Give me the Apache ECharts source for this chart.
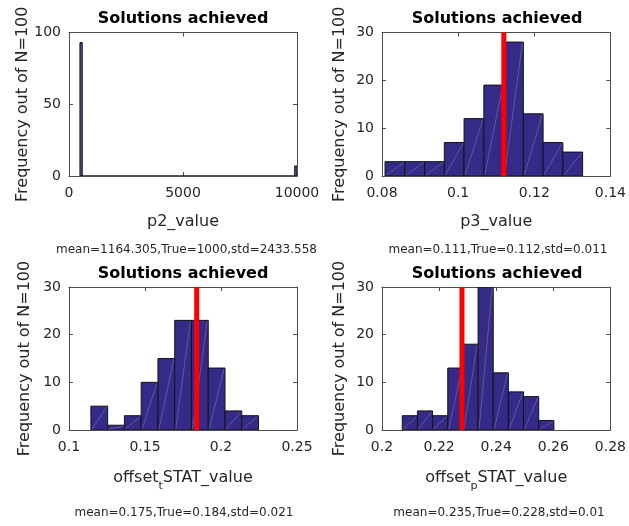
<!DOCTYPE html>
<html>
<head>
<meta charset="utf-8">
<script src="https://cdn.jsdelivr.net/npm/echarts@6/dist/echarts.min.js"></script>
<style>
  html, body { margin: 0; padding: 0; background: #ffffff; }
  #chart { width: 629px; height: 526px; }
</style>
</head>
<body>
<div id="chart"></div>
<script>
// ---- data -------------------------------------------------------------
// p2: 95 equal-width bins starting at the smallest solution
const p2BinStart = 480;
const p2BinWidth = 100.2;
const p2Counts = [
  93, 0, 0, 0, 0, 0, 0, 0, 0, 0,
  0, 0, 0, 0, 0, 0, 0, 0, 0, 0,
  0, 0, 0, 0, 0, 0, 0, 0, 0, 0,
  0, 0, 0, 0, 0, 0, 0, 0, 0, 0,
  0, 0, 0, 0, 0, 0, 0, 0, 0, 0,
  0, 0, 0, 0, 0, 0, 0, 0, 0, 0,
  0, 0, 0, 0, 0, 0, 0, 0, 0, 0,
  0, 0, 0, 0, 0, 0, 0, 0, 0, 0,
  0, 0, 0, 0, 0, 0, 0, 0, 0, 0,
  0, 0, 0, 0, 7
];

const p3BinStart = 0.0808;
const p3BinWidth = 0.00519;
const p3Counts = [3, 3, 3, 7, 12, 19, 28, 13, 7, 5];
const p3True = 0.112;

const offsetTBinStart = 0.1144;
const offsetTBinWidth = 0.01103;
const offsetTCounts = [5, 1, 3, 10, 15, 23, 23, 13, 4, 3];
const offsetTTrue = 0.184;

const offsetPBinStart = 0.2071;
const offsetPBinWidth = 0.00531;
const offsetPCounts = [3, 4, 3, 13, 18, 30, 12, 8, 7, 2];
const offsetPTrue = 0.228;

const xTicks = [
  { min: 0, max: 10000, interval: 5000 },
  { min: 0.08, max: 0.14, interval: 0.02 },
  { min: 0.1, max: 0.25, interval: 0.05 },
  { min: 0.2, max: 0.28, interval: 0.02 }
];
const yTicks = [
  { min: 0, max: 100, interval: 50 },
  { min: 0, max: 30, interval: 10 },
  { min: 0, max: 30, interval: 10 },
  { min: 0, max: 30, interval: 10 }
];

const panelTitle = 'Solutions achieved';
const yLabel = 'Frequency out of N=100';
const xLabels = [
  'p2_value',
  'p3_value',
  '{m|offset}{s|t}{m|STAT_value}',
  '{m|offset}{s|p}{m|STAT_value}'
];
const summaries = [
  'mean=1164.305,True=1000,std=2433.558',
  'mean=0.111,True=0.112,std=0.011',
  'mean=0.175,True=0.184,std=0.021',
  'mean=0.235,True=0.228,std=0.01'
];

// ---- helpers ----------------------------------------------------------
function binsOf(start, width, counts) {
  return counts.map((c, i) => [start + i * width, start + (i + 1) * width, c]);
}
function plainNumber(v) {
  return String(parseFloat(Number(v).toPrecision(10)));
}

const panels = [
  { bins: binsOf(p2BinStart, p2BinWidth, p2Counts), truth: null },
  { bins: binsOf(p3BinStart, p3BinWidth, p3Counts), truth: p3True },
  { bins: binsOf(offsetTBinStart, offsetTBinWidth, offsetTCounts), truth: offsetTTrue },
  { bins: binsOf(offsetPBinStart, offsetPBinWidth, offsetPCounts), truth: offsetPTrue }
];

const FONT = 'DejaVu Sans';
const INK = '#262626';
const BOX = '#4d4d4d';
const BAR = '#352a87';

const grids = [
  { left: 69, top: 32.5, width: 228, height: 143.5 },
  { left: 382, top: 32.5, width: 230, height: 143.5 },
  { left: 69, top: 287, width: 228, height: 143 },
  { left: 382, top: 287, width: 230, height: 143 }
];
const xNameGap = [38, 38, 40, 40];
const yNameGap = [36, 34, 36, 34];

const xAxes = [], yAxes = [], series = [];

grids.forEach((g, i) => {
  const tickStyle = { show: true, inside: true, length: 4, lineStyle: { color: BOX, width: 1 } };
  const lineStyle = { show: true, onZero: false, lineStyle: { color: BOX, width: 1 } };
  xAxes.push({
    type: 'value', gridIndex: i, position: 'bottom',
    min: xTicks[i].min, max: xTicks[i].max, interval: xTicks[i].interval,
    axisLine: lineStyle, axisTick: tickStyle, splitLine: { show: false },
    axisLabel: { color: INK, fontSize: 14, fontFamily: FONT, margin: 10, formatter: plainNumber },
    name: xLabels[i], nameLocation: 'middle', nameGap: xNameGap[i],
    nameTextStyle: {
      color: INK, fontSize: 16, fontFamily: FONT,
      rich: {
        m: { color: INK, fontSize: 16, fontFamily: FONT, lineHeight: 18, verticalAlign: 'top' },
        s: { color: INK, fontSize: 11, fontFamily: FONT, lineHeight: 11, verticalAlign: 'top', padding: [11, 0, 0, 0] }
      }
    }
  });
  xAxes.push({
    type: 'value', gridIndex: i, position: 'top',
    min: xTicks[i].min, max: xTicks[i].max, interval: xTicks[i].interval,
    axisLine: lineStyle, axisTick: tickStyle, splitLine: { show: false },
    axisLabel: { show: false }
  });
  yAxes.push({
    type: 'value', gridIndex: i, position: 'left',
    min: yTicks[i].min, max: yTicks[i].max, interval: yTicks[i].interval,
    axisLine: lineStyle, axisTick: tickStyle, splitLine: { show: false },
    axisLabel: { color: INK, fontSize: 14, fontFamily: FONT, margin: 8, formatter: plainNumber },
    name: yLabel, nameLocation: 'middle', nameGap: yNameGap[i],
    nameTextStyle: { color: INK, fontSize: 16, fontFamily: FONT }
  });
  yAxes.push({
    type: 'value', gridIndex: i, position: 'right',
    min: yTicks[i].min, max: yTicks[i].max, interval: yTicks[i].interval,
    axisLine: lineStyle, axisTick: tickStyle, splitLine: { show: false },
    axisLabel: { show: false }
  });

  // histogram bars: filled rectangle with dark edge and a faint diagonal seam
  series.push({
    type: 'custom',
    xAxisIndex: 2 * i, yAxisIndex: 2 * i,
    clip: true,
    data: panels[i].bins,
    renderItem: function (params, api) {
      const p0 = api.coord([api.value(0), 0]);
      const p1 = api.coord([api.value(1), api.value(2)]);
      const x = p0[0], y = p1[1], w = p1[0] - p0[0], h = p0[1] - p1[1];
      const children = [{
        type: 'rect',
        shape: { x: x, y: y, width: w, height: h },
        style: { fill: BAR, stroke: '#141414', lineWidth: 1 }
      }];
      if (h > 2) {
        children.push({
          type: 'line',
          shape: { x1: x + 1, y1: y + h - 1, x2: x + w - 1, y2: y + 1 },
          style: { stroke: 'rgba(255,255,255,0.35)', lineWidth: 0.6 }
        });
      }
      return { type: 'group', children: children };
    }
  });

  // true value marker
  if (panels[i].truth !== null) {
    series.push({
      type: 'line',
      xAxisIndex: 2 * i, yAxisIndex: 2 * i,
      data: [[panels[i].truth, yTicks[i].min], [panels[i].truth, yTicks[i].max]],
      symbol: 'none',
      lineStyle: { color: '#ff0000', width: 5, cap: 'butt' },
      z: 5
    });
  }
});

const titleCenters = [[183, 19], [497, 19], [183, 273.5], [497, 273.5]];
const summaryCenters = [[186.5, 250], [498, 250], [184, 513], [499, 513]];

const graphics = [];
titleCenters.forEach((c) => {
  graphics.push({
    type: 'text', x: c[0], y: c[1],
    style: {
      text: panelTitle, fill: '#000000',
      font: 'bold 16px "DejaVu Sans"',
      textAlign: 'center', textVerticalAlign: 'middle',
      align: 'center', verticalAlign: 'middle'
    }
  });
});
summaryCenters.forEach((c, i) => {
  graphics.push({
    type: 'text', x: c[0], y: c[1],
    style: {
      text: summaries[i], fill: INK,
      font: '12px "DejaVu Sans"',
      textAlign: 'center', textVerticalAlign: 'middle',
      align: 'center', verticalAlign: 'middle'
    }
  });
});

const chart = echarts.init(document.getElementById('chart'), null, { renderer: 'canvas' });
chart.setOption({
  animation: false,
  backgroundColor: '#ffffff',
  grid: grids.map((g) => Object.assign({ containLabel: false }, g)),
  xAxis: xAxes,
  yAxis: yAxes,
  series: series,
  graphic: graphics
});
</script>
</body>
</html>
